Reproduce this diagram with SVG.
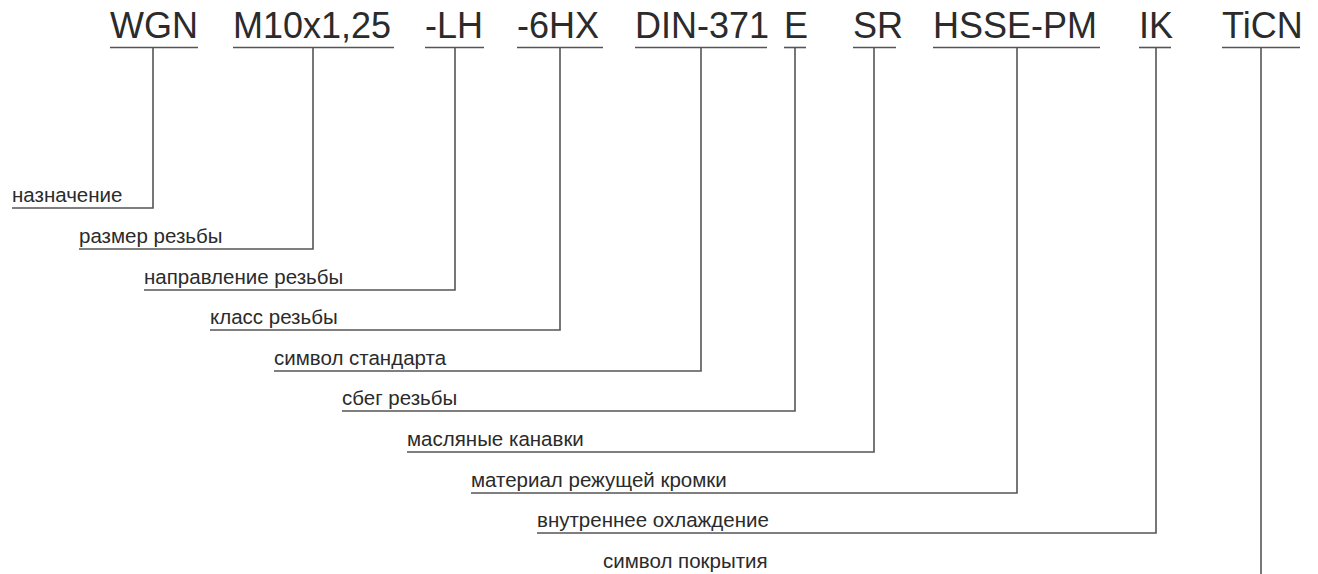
<svg xmlns="http://www.w3.org/2000/svg" width="1318" height="574" viewBox="0 0 1318 574">
<style>
.code{font-family:"Liberation Sans",Arial,sans-serif;font-size:36px;fill:#2b2b2b}
.lbl{font-family:"Liberation Sans",Arial,sans-serif;font-size:20.5px;fill:#2b2b2b}
.ul{stroke:#555;stroke-width:1.6;fill:none}
.c{stroke:#555;stroke-width:1.6;fill:none}
</style>
<rect width="1318" height="574" fill="#fff"/>
<g id="code-WGN"><text class="code" x="110" y="38">WGN</text><line class="ul" x1="110" y1="47.5" x2="198" y2="47.5"/></g>
<g id="code-M10"><text class="code" x="233" y="38">M10x1,25</text><line class="ul" x1="233" y1="47.5" x2="394" y2="47.5"/></g>
<g id="code-LH"><text class="code" x="425" y="38">-LH</text><line class="ul" x1="425" y1="47.5" x2="484" y2="47.5"/></g>
<g id="code-6HX"><text class="code" x="517" y="38">-6HX</text><line class="ul" x1="517" y1="47.5" x2="603" y2="47.5"/></g>
<g id="code-DIN"><text class="code" x="635" y="38">DIN-371</text><line class="ul" x1="635" y1="47.5" x2="767" y2="47.5"/></g>
<g id="code-E"><text class="code" x="784" y="38">E</text><line class="ul" x1="784" y1="47.5" x2="806" y2="47.5"/></g>
<g id="code-SR"><text class="code" x="853" y="38">SR</text><line class="ul" x1="853" y1="47.5" x2="896" y2="47.5"/></g>
<g id="code-HSSE"><text class="code" x="933" y="38">HSSE-PM</text><line class="ul" x1="933" y1="47.5" x2="1100" y2="47.5"/></g>
<g id="code-IK"><text class="code" x="1139" y="38">IK</text><line class="ul" x1="1139" y1="47.5" x2="1171" y2="47.5"/></g>
<g id="code-TiCN"><text class="code" x="1222" y="38">TiCN</text><line class="ul" x1="1222" y1="47.5" x2="1300" y2="47.5"/></g>

<g id="label-1"><text class="lbl" x="12" y="202">назначение</text></g>
<g id="label-2"><text class="lbl" x="79" y="243">размер резьбы</text></g>
<g id="label-3"><text class="lbl" x="144" y="284">направление резьбы</text></g>
<g id="label-4"><text class="lbl" x="210" y="324">класс резьбы</text></g>
<g id="label-5"><text class="lbl" x="274" y="365">символ стандарта</text></g>
<g id="label-6"><text class="lbl" x="342" y="405">сбег резьбы</text></g>
<g id="label-7"><text class="lbl" x="407" y="446">масляные канавки</text></g>
<g id="label-8"><text class="lbl" x="471" y="487">материал режущей кромки</text></g>
<g id="label-9"><text class="lbl" x="537" y="527">внутреннее охлаждение</text></g>
<g id="label-10"><text class="lbl" x="603" y="568">символ покрытия</text></g>

<g id="connectors">
<path class="c" d="M153 47.5V208H12"/>
<path class="c" d="M313 47.5V249H79"/>
<path class="c" d="M455 47.5V290H144"/>
<path class="c" d="M560 47.5V330H210"/>
<path class="c" d="M701 47.5V371H274"/>
<path class="c" d="M795 47.5V411H342"/>
<path class="c" d="M874 47.5V452H407"/>
<path class="c" d="M1017 47.5V493H471"/>
<path class="c" d="M1156 47.5V533H537"/>
<path class="c" d="M1261 47.5V574"/>
</g>
</svg>
